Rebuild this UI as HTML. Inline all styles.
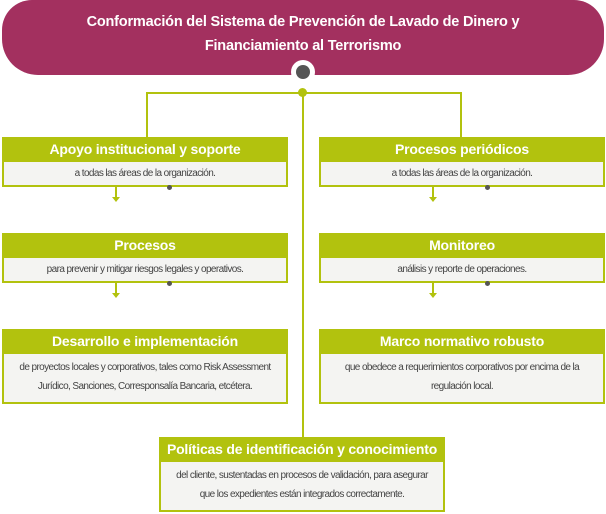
<!DOCTYPE html>
<html><head><meta charset="utf-8"><style>
body{margin:0;width:606px;height:514px;background:#fff;position:relative;overflow:hidden;font-family:"Liberation Sans",sans-serif}
.a{position:absolute}
.hdr{left:2px;top:0;width:602px;height:75px;background:#a3305f;border-radius:30px 30px 36px 36px;color:#fff;font-weight:bold;font-size:14.5px;text-align:center;line-height:24px;padding-top:10px;box-sizing:border-box;letter-spacing:-0.2px}
.ln{background:#b2c20e}
.box{position:absolute;width:286px}
.t{background:#b2c20e;color:#fff;font-weight:bold;font-size:14px;text-align:center;height:25px;line-height:25px;letter-spacing:-0.2px}
.b{background:#f4f4f2;border:2px solid #b2c20e;border-top:none;color:#444;font-size:10px;text-align:center;letter-spacing:-0.6px;box-sizing:border-box;line-height:19px;padding-top:2px}
.dot{position:absolute;width:5px;height:5px;border-radius:50%;background:#555}
.arr{position:absolute;width:0;height:0;border-left:4px solid transparent;border-right:4px solid transparent;border-top:5px solid #b2c20e}
</style></head><body>
<div class="a hdr">Conformación del Sistema de Prevención de Lavado de Dinero y<br>Financiamiento al Terrorismo</div>
<div class="a" style="left:291px;top:60px;width:24px;height:24px;border-radius:50%;background:#fff"></div>
<div class="a" style="left:296px;top:65px;width:14px;height:14px;border-radius:50%;background:#555"></div>
<div class="a ln" style="left:146px;top:92px;width:316px;height:2px"></div>
<div class="a ln" style="left:146px;top:92px;width:2px;height:46px"></div>
<div class="a ln" style="left:460px;top:92px;width:2px;height:46px"></div>
<div class="a ln" style="left:302px;top:92px;width:2px;height:346px"></div>
<div class="a" style="left:298px;top:88px;width:9px;height:9px;border-radius:50%;background:#b2c20e"></div>

<div class="box" style="left:2px;top:137px"><div class="t">Apoyo institucional y soporte</div><div class="b" style="height:25px;padding-top:2px">a todas las áreas de la organización.</div></div>
<div class="box" style="left:319px;top:137px"><div class="t">Procesos periódicos</div><div class="b" style="height:25px;padding-top:2px">a todas las áreas de la organización.</div></div>
<div class="box" style="left:2px;top:233px"><div class="t">Procesos</div><div class="b" style="height:25px;padding-top:2px">para prevenir y mitigar riesgos legales y operativos.</div></div>
<div class="box" style="left:319px;top:233px"><div class="t">Monitoreo</div><div class="b" style="height:25px;padding-top:2px">análisis y reporte de operaciones.</div></div>
<div class="box" style="left:2px;top:329px"><div class="t">Desarrollo e implementación</div><div class="b" style="height:50px;padding-top:4px">de proyectos locales y corporativos, tales como Risk Assessment<br>Jurídico, Sanciones, Corresponsalía Bancaria, etcétera.</div></div>
<div class="box" style="left:319px;top:329px"><div class="t">Marco normativo robusto</div><div class="b" style="height:50px;padding-top:4px">que obedece a requerimientos corporativos por encima de la<br>regulación local.</div></div>
<div class="box" style="left:159px;top:437px"><div class="t">Políticas de identificación y conocimiento</div><div class="b" style="height:50px;padding-top:4px">del cliente, sustentadas en procesos de validación, para asegurar<br>que los expedientes están integrados correctamente.</div></div>

<div class="a ln" style="left:115px;top:187px;width:2px;height:11px"></div><div class="arr" style="left:112px;top:197px"></div>
<div class="a ln" style="left:115px;top:283px;width:2px;height:11px"></div><div class="arr" style="left:112px;top:293px"></div>
<div class="a ln" style="left:432px;top:187px;width:2px;height:11px"></div><div class="arr" style="left:429px;top:197px"></div>
<div class="a ln" style="left:432px;top:283px;width:2px;height:11px"></div><div class="arr" style="left:429px;top:293px"></div>
<div class="dot" style="left:167px;top:185px"></div>
<div class="dot" style="left:167px;top:281px"></div>
<div class="dot" style="left:485px;top:185px"></div>
<div class="dot" style="left:485px;top:281px"></div>
</body></html>
